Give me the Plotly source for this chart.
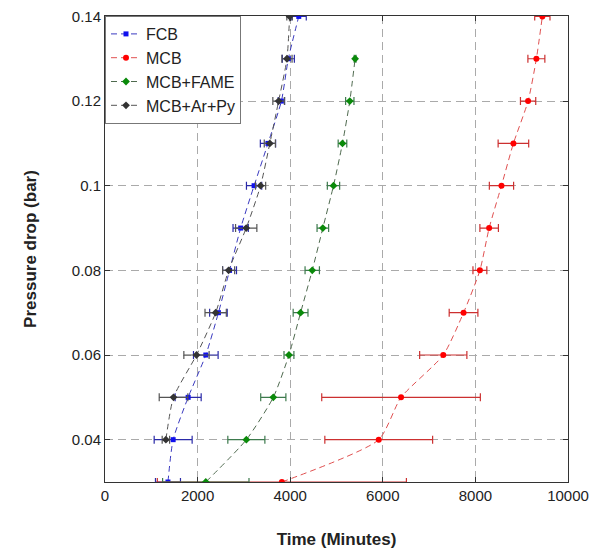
import plotly.graph_objects as go

pressure = [0.03, 0.04, 0.05, 0.06, 0.07, 0.08, 0.09, 0.10, 0.11, 0.12, 0.13, 0.14]

fcb_time = [1360, 1472, 1796, 2177, 2450, 2690, 2930, 3220, 3520, 3810, 3960, 4185]
fcb_err = [270, 410, 281, 266, 190, 150, 165, 165, 165, 70, 130, 162]

mcb_time = [3820, 5912, 6394, 7306, 7744, 8097, 8297, 8563, 8821, 9138, 9317, 9446]
mcb_err = [2690, 1164, 1713, 510, 310, 150, 200, 262, 330, 165, 183, 165]

fame_p = [0.03, 0.04, 0.05, 0.06, 0.07, 0.08, 0.09, 0.10, 0.11, 0.12, 0.13]
fame_time = [2177, 3053, 3635, 3973, 4224, 4476, 4705, 4935, 5129, 5287, 5402]
fame_err = [933, 400, 272, 107, 160, 155, 125, 133, 93, 90, 20]

arpy_p = [0.04, 0.05, 0.06, 0.07, 0.08, 0.09, 0.10, 0.11, 0.12, 0.13, 0.14]
arpy_time = [1315, 1480, 1976, 2390, 2670, 3050, 3360, 3560, 3750, 3930, 3987]
arpy_err = [80, 309, 273, 230, 130, 230, 110, 120, 125, 110, 60]

x_ticks = [0, 2000, 4000, 6000, 8000, 10000]
x_ticktext = ["0", "2000", "4000", "6000", "8000", "10000"]
y_ticks = [0.04, 0.06, 0.08, 0.1, 0.12, 0.14]
y_ticktext = ["0.04", "0.06", "0.08", "0.1", "0.12", "0.14"]

series = [
    ("FCB", fcb_time, pressure, fcb_err, "#1010ee", "#3a3ac0", "#2a2aa8", "square", 5),
    ("MCB", mcb_time, pressure, mcb_err, "#ff0000", "#e05050", "#cc3030", "circle", 6),
    ("MCB+FAME", fame_time, fame_p, fame_err, "#0a8a0a", "#4f6a4f", "#3d7a4d", "diamond", 6),
    ("MCB+Ar+Py", arpy_time, arpy_p, arpy_err, "#333333", "#555555", "#555555", "diamond", 6),
]

fig = go.Figure()
for name, x, y, err, mcol, lcol, ecol, sym, ms in series:
    fig.add_trace(go.Scatter(
        x=x, y=y, name=name, mode="lines+markers",
        line=dict(color=lcol, width=1, dash="6px,4px", shape="spline", smoothing=0.6),
        marker=dict(color=mcol, symbol=sym, size=ms),
        error_x=dict(type="data", array=err, visible=True, color=ecol, thickness=1.2, width=4),
    ))

font = "Liberation Sans, Arial"
axis_common = dict(
    showline=True, linecolor="#333333", linewidth=1, mirror="ticks",
    ticks="inside", ticklen=5, tickcolor="#333333",
    showgrid=True, gridcolor="#aaaaaa", griddash="8px,5px", gridwidth=1,
    zeroline=False, automargin=False, ticklabeloverflow="allow",
    tickfont=dict(family=font, size=15, color="#222222"),
)

fig.update_xaxes(range=[0, 10000], tickvals=x_ticks, ticktext=x_ticktext,
                 title=dict(text="<b>Time (Minutes)</b>", font=dict(family=font, size=17, color="#222222"), standoff=30),
                 **axis_common)
fig.update_yaxes(range=[0.03, 0.1401], tickvals=y_ticks, ticktext=y_ticktext,
                 title=dict(text="<b>Pressure drop (bar)</b>", font=dict(family=font, size=17, color="#222222"), standoff=30),
                 **axis_common)

fig.update_layout(
    width=598, height=542,
    margin=dict(l=97, r=38, t=8, b=68),
    paper_bgcolor="white", plot_bgcolor="white",
    showlegend=True,
    legend=dict(x=0.0, y=1.0, xanchor="left", yanchor="top",
                bgcolor="white", bordercolor="#777777", borderwidth=1,
                font=dict(family=font, size=16, color="#222222"),
                tracegroupgap=0, itemwidth=30),
)

fig.write_html("out.html")
